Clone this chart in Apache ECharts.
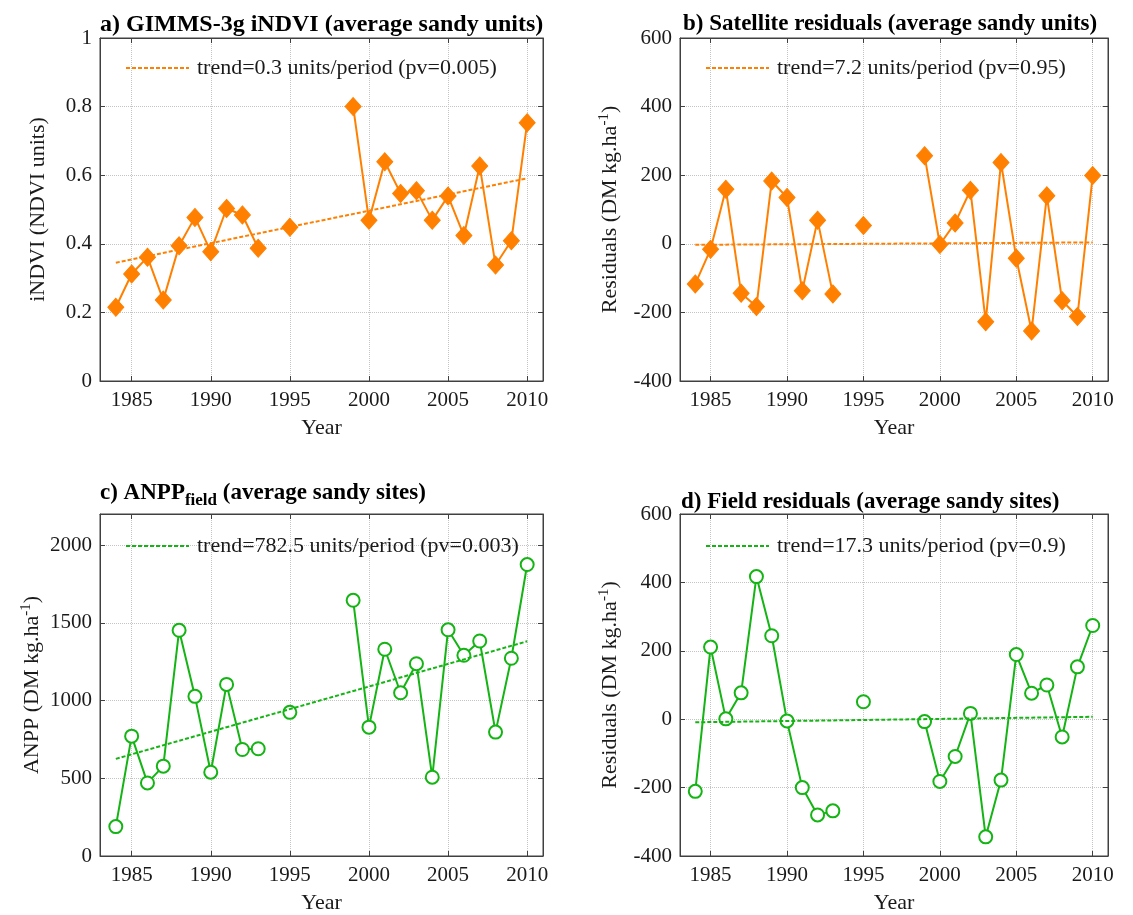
<!DOCTYPE html>
<html>
<head>
<meta charset="utf-8">
<script src="https://cdn.jsdelivr.net/npm/echarts@6/dist/echarts.min.js"></script>
<style>
  html, body { margin: 0; padding: 0; background: #fff; }
  #chart { width: 1133px; height: 915px; }
</style>
</head>
<body>
<div id="chart"></div>
<script>
const years = [1984, 1985, 1986, 1987, 1988, 1989, 1990, 1991, 1992, 1993, 1994, 1995, 1996,
  1997, 1998, 1999, 2000, 2001, 2002, 2003, 2004, 2005, 2006, 2007, 2008, 2009, 2010];

const indvi = [0.215, 0.312, 0.361, 0.236, 0.394, 0.477, 0.377, 0.503, 0.484, 0.387, null, 0.448, null,
  null, null, 0.80, 0.469, 0.639, 0.547, 0.555, 0.469, 0.539, 0.424, 0.627, 0.338, 0.409, 0.753];

const satResiduals = [-117, -16, 159, -144, -183, 183, 135, -137, 69, -146, null, 53, null,
  null, null, 257, -2, 61, 156, -227, 237, -42, -254, 140, -166, -212, 199];

const anpp = [189, 771, 470, 578, 1452, 1027, 539, 1104, 685, 690, null, 924, null,
  null, null, 1645, 829, 1330, 1050, 1237, 507, 1455, 1291, 1383, 797, 1272, 1875];

const fieldResiduals = [-211, 211, 1, 77, 417, 244, -5, -200, -280, -268, null, 51, null,
  null, null, -7, -182, -109, 17, -344, -178, 189, 76, 100, -52, 153, 274];

// trend line end points (1984, 2010)
const trendYears = [1984, 2010];
const trendA = [0.345, 0.591];
const trendB = [-3, 4];
const trendC = [625, 1381];
const trendD = [-9, 7];

const trendNames = [
  'trend=0.3 units/period (pv=0.005)',
  'trend=7.2 units/period (pv=0.95)',
  'trend=782.5 units/period (pv=0.003)',
  'trend=17.3 units/period (pv=0.9)'
];

const xTicks = [1985, 1990, 1995, 2000, 2005, 2010];

// --- style ---
const FONT = "'Liberation Serif', 'Times New Roman', serif";
const ORANGE = '#ff8000';
const GREEN = '#14b414';
const AXIS = '#404040';
const TXT = '#1a1a1a';

const pairs = (vals) => years.map((y, i) => [y, vals[i] === null ? '-' : vals[i]]);
const trendPairs = (t) => trendYears.map((y, i) => [y, t[i]]);

const grids = [
  { left: 100, top: 38, width: 443, height: 343 },
  { left: 680, top: 38, width: 428, height: 343 },
  { left: 100, top: 514, width: 443, height: 343 },
  { left: 680, top: 514, width: 428, height: 343 }
].map(g => Object.assign(g, { show: true, borderColor: AXIS, borderWidth: 1, containLabel: false }));

const makeX = (gi) => ({
  type: 'value', gridIndex: gi, min: 1983, max: 2011,
  name: 'Year', nameLocation: 'middle', nameGap: 36,
  nameTextStyle: { fontFamily: FONT, fontSize: 22, color: TXT },
  axisLine: { onZero: false, lineStyle: { color: AXIS } },
  axisTick: { inside: true, length: 5, customValues: xTicks, lineStyle: { color: AXIS } },
  axisLabel: { customValues: xTicks, fontFamily: FONT, fontSize: 21, color: TXT, margin: 9, formatter: v => String(v) },
  splitLine: { show: true, lineStyle: { color: '#c4c4c4', type: 'dotted' } }
});

// mirrored axes: only the inside ticks on the top / right border
const makeXTop = (gi) => ({
  type: 'value', gridIndex: gi, min: 1983, max: 2011, position: 'top',
  axisLine: { onZero: false, lineStyle: { color: AXIS } },
  axisTick: { inside: true, length: 5, customValues: xTicks, lineStyle: { color: AXIS } },
  axisLabel: { show: false }, splitLine: { show: false }
});

const supRich = {
  n: { fontFamily: FONT, fontSize: 22, color: TXT },
  sup: { fontFamily: FONT, fontSize: 15, color: TXT, padding: [0, 0, 12, 0] }
};

const makeY = (gi, min, max, interval, name, gap, hideMax) => ({
  type: 'value', gridIndex: gi, min: min, max: max, interval: interval,
  name: name, nameLocation: 'middle', nameGap: gap,
  nameTextStyle: { fontFamily: FONT, fontSize: 22, color: TXT, rich: supRich },
  axisLine: { onZero: false, lineStyle: { color: AXIS } },
  axisTick: { inside: true, length: 5, lineStyle: { color: AXIS } },
  axisLabel: { fontFamily: FONT, fontSize: 21, color: TXT, margin: 8, showMaxLabel: !hideMax, formatter: v => String(v) },
  splitLine: { show: true, lineStyle: { color: '#c4c4c4', type: 'dotted' } }
});

const makeYRight = (gi, min, max, interval) => ({
  type: 'value', gridIndex: gi, min: min, max: max, interval: interval, position: 'right',
  axisLine: { onZero: false, lineStyle: { color: AXIS } },
  axisTick: { inside: true, length: 5, lineStyle: { color: AXIS } },
  axisLabel: { show: false }, splitLine: { show: false }
});

const dataSeries = (idx, vals, color, diamond) => ({
  type: 'line', xAxisIndex: idx, yAxisIndex: idx,
  data: pairs(vals), connectNulls: false,
  symbol: diamond ? 'diamond' : 'circle',
  symbolSize: diamond ? [16, 18] : 13,
  showAllSymbol: true,
  lineStyle: { color: color, width: 2 },
  itemStyle: diamond ? { color: color, borderColor: color, borderWidth: 1 }
                     : { color: '#fff', borderColor: color, borderWidth: 2 },
  z: 2, animation: false
});

const trendSeries = (idx, t, color) => ({
  name: trendNames[idx],
  type: 'line', xAxisIndex: idx, yAxisIndex: idx,
  data: trendPairs(t), symbol: 'none',
  lineStyle: { color: color, width: 2, type: [4, 2] },
  itemStyle: { color: color },
  z: 3, animation: false
});

const makeLegend = (idx, left, top) => ({
  data: [trendNames[idx]], left: left, top: top, padding: 0,
  itemWidth: 63, itemHeight: 14, selectedMode: false,
  itemStyle: { color: 'rgba(0,0,0,0)', borderColor: 'rgba(0,0,0,0)', borderWidth: 0 },
  textStyle: { fontFamily: FONT, fontSize: 22, color: TXT, padding: [0, 0, 0, 3] }
});

const titleStyle = { fontFamily: FONT, fontSize: 23, fontWeight: 'bold', color: '#000' };

const option = {
  backgroundColor: '#fff',
  animation: false,
  title: [
    { text: 'a) GIMMS-3g iNDVI (average sandy units)', left: 100, top: 13, padding: 0,
      textStyle: Object.assign({}, titleStyle, { fontSize: 24 }) },
    { text: 'b) Satellite residuals (average sandy units)', left: 683, top: 13, padding: 0, textStyle: titleStyle },
    {
      text: '{b|c) ANPP}{s|field}{b| (average sandy sites)}', left: 100, top: 478, padding: 0,
      textStyle: {
        rich: {
          b: { fontFamily: FONT, fontSize: 23, fontWeight: 'bold', color: '#000' },
          s: { fontFamily: FONT, fontSize: 17, fontWeight: 'bold', color: '#000', padding: [14, 0, 0, 0] }
        }
      }
    },
    { text: 'd) Field residuals (average sandy sites)', left: 681, top: 491, padding: 0, textStyle: titleStyle }
  ],
  grid: grids,
  legend: [
    makeLegend(0, 125, 57),
    makeLegend(1, 705, 57),
    makeLegend(2, 125, 535),
    makeLegend(3, 705, 535)
  ],
  xAxis: [makeX(0), makeX(1), makeX(2), makeX(3),
    makeXTop(0), makeXTop(1), makeXTop(2), makeXTop(3)],
  yAxis: [
    makeY(0, 0, 1, 0.2, 'iNDVI (NDVI units)', 51, false),
    makeY(1, -400, 600, 200, '{n|Residuals (DM kg.ha}{sup|-1}{n|)}', 56, false),
    makeY(2, 0, 2200, 500, '{n|ANPP (DM kg.ha}{sup|-1}{n|)}', 54, true),
    makeY(3, -400, 600, 200, '{n|Residuals (DM kg.ha}{sup|-1}{n|)}', 56, false),
    makeYRight(0, 0, 1, 0.2),
    makeYRight(1, -400, 600, 200),
    makeYRight(2, 0, 2200, 500),
    makeYRight(3, -400, 600, 200)
  ],
  series: [
    dataSeries(0, indvi, ORANGE, true),
    trendSeries(0, trendA, ORANGE),
    dataSeries(1, satResiduals, ORANGE, true),
    trendSeries(1, trendB, ORANGE),
    dataSeries(2, anpp, GREEN, false),
    trendSeries(2, trendC, GREEN),
    dataSeries(3, fieldResiduals, GREEN, false),
    trendSeries(3, trendD, GREEN)
  ]
};

const chart = echarts.init(document.getElementById('chart'));
chart.setOption(option);
window.addEventListener('resize', () => chart.resize());
</script>
</body>
</html>
